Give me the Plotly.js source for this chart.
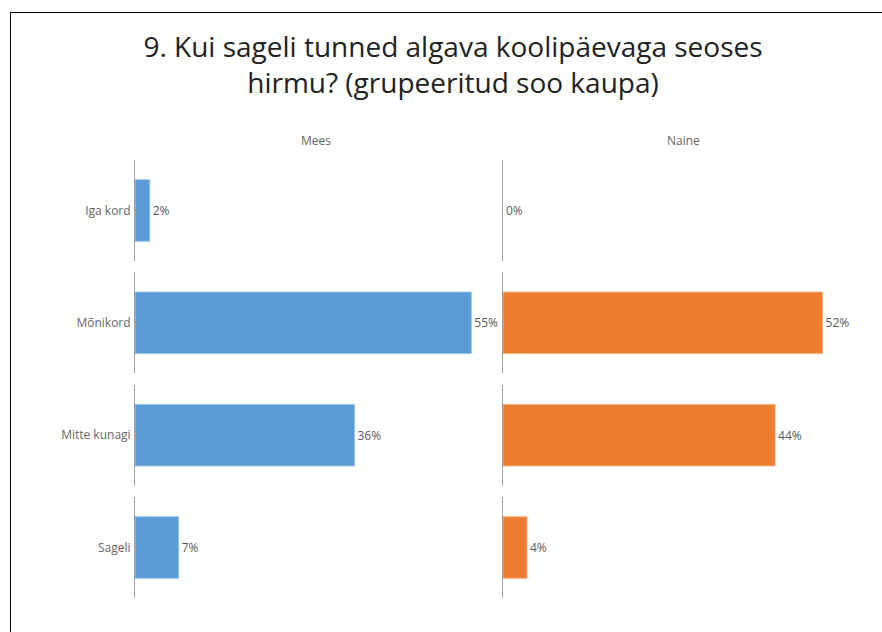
<!DOCTYPE html>
<html>
<head>
<meta charset="utf-8">
<script src="https://cdn.plot.ly/plotly-3.0.1.min.js"></script>
<style>
  html, body { margin: 0; padding: 0; background: #fff; }
  #wrap { position: relative; width: 882px; height: 632px; }
  #chart { width: 882px; height: 632px; }
  #frame { position: absolute; left: 10px; top: 12px; right: 0; bottom: 0;
           border-top: 1px solid #000; border-left: 1px solid #000; pointer-events: none; }
</style>
</head>
<body>
<div id="wrap"><div id="chart"></div><div id="frame"></div></div>
<script>
// ---- data ----
const titleText = "9. Kui sageli tunned algava koolipäevaga seoses<br>hirmu? (grupeeritud soo kaupa)";
const groups = ["Mees", "Naine"];
const categories = ["Iga kord", "Mõnikord", "Mitte kunagi", "Sageli"];
const mees = [2.4, 54.7, 35.7, 7.1];
const naine = [0, 51.9, 44.2, 3.9];
const groupColors = ["#5B9BD5", "#ED7D31"];
const groupLineColors = ["#9DC3E6", "#F4B183"];

// ---- layout constants ----
const values = [mees, naine];
const colDomains = [[0, 0.4952], [0.5041, 1]];
const rowH = 0.2305, rowGap = 0.026;
const xMax = 58.8;

const traces = [];
const layout = {
  width: 882, height: 632,
  margin: {l: 135, r: 17, t: 160, b: 34},
  paper_bgcolor: "#fff", plot_bgcolor: "#fff",
  showlegend: false,
  bargap: 0.39,
  font: {family: "Open Sans, sans-serif", color: "#666", size: 12},
  title: {
    text: titleText,
    font: {family: "Open Sans, sans-serif", size: 28, color: "#222"},
    xref: "container", x: 0.5136, xanchor: "center",
    yref: "container", y: 1 - 57/632, yanchor: "top"
  },
  annotations: []
};

let idx = 0;
for (let r = 0; r < categories.length; r++) {
  const top = 1 - r * (rowH + rowGap);
  const yDom = [Math.max(0, top - rowH), top];
  for (let c = 0; c < groups.length; c++) {
    idx++;
    const xa = idx === 1 ? "x" : "x" + idx;
    const ya = idx === 1 ? "y" : "y" + idx;
    const xk = idx === 1 ? "xaxis" : "xaxis" + idx;
    const yk = idx === 1 ? "yaxis" : "yaxis" + idx;
    const v = values[c][r];
    traces.push({
      type: "bar", orientation: "h",
      x: [v], y: [categories[r]],
      xaxis: xa, yaxis: ya,
      marker: {color: groupColors[c], line: {color: groupLineColors[c], width: v > 0 ? 1 : 0}},
      texttemplate: "%{x:.0f}%", textposition: "outside", cliponaxis: false,
      textfont: {family: "Open Sans, sans-serif", size: 12, color: "#595959"},
      hoverinfo: "x+y"
    });
    layout[xk] = {
      domain: colDomains[c], anchor: ya, range: [0, xMax],
      showgrid: false, zeroline: false, showticklabels: false, showline: false, ticks: ""
    };
    layout[yk] = {
      domain: yDom, anchor: xa, type: "category",
      showline: true, linecolor: "#a0a0a0", linewidth: 1,
      showgrid: false, zeroline: false, ticks: "",
      showticklabels: c === 0, ticklabelstandoff: 1,
      tickfont: {family: "Open Sans, sans-serif", size: 12, color: "#666"}
    };
  }
}

for (let c = 0; c < groups.length; c++) {
  layout.annotations.push({
    text: groups[c], showarrow: false,
    xref: "paper", yref: "paper",
    x: (colDomains[c][0] + colDomains[c][1]) / 2, xanchor: "center",
    y: 1, yanchor: "bottom", yshift: 9,
    font: {family: "Open Sans, sans-serif", size: 12, color: "#666"}
  });
}

Plotly.newPlot("chart", traces, layout, {displayModeBar: false, staticPlot: true});
</script>
</body>
</html>
